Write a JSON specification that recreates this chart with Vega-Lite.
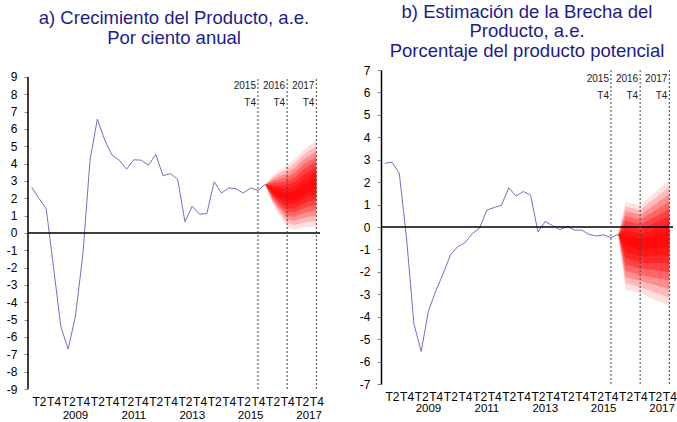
{
"$schema":"https://vega.github.io/schema/vega-lite/v6.json",
"background":"white",
"padding":{"left":6,"top":2,"right":0,"bottom":0},
"bounds":"flush",
"spacing":61,
"config":{"view":{"stroke":null},"font":"Liberation Sans","title":{"fontSize":18.5,"fontWeight":"normal","color":"#1c1c8c","lineHeight":19.5,"anchor":"middle","frame":"group"},
 "axisX":{"domain":false,"ticks":false,"tickSize":0,"grid":false,"labelFontSize":12,"labelPadding":7,"labelOverlap":false,"labelFlush":false,"labelColor":"#000"},
 "axisY":{"grid":false,"tickSize":4,"tickColor":"#888","labelFontSize":12,"labelPadding":7,"labelColor":"#000","labelOverlap":false,"domainColor":"#000","domainWidth":1.5}},
"datasets":{
"histA":[{"t":0,"v":2.64},{"t":1,"v":2.0},{"t":2,"v":1.39},{"t":3,"v":-2.0},{"t":4,"v":-5.4},{"t":5,"v":-6.7},{"t":6,"v":-4.8},{"t":7,"v":-1.3},{"t":8,"v":4.2},{"t":9,"v":6.57},{"t":10,"v":5.37},{"t":11,"v":4.5},{"t":12,"v":4.2},{"t":13,"v":3.68},{"t":14,"v":4.22},{"t":15,"v":4.2},{"t":16,"v":3.91},{"t":17,"v":4.53},{"t":18,"v":3.3},{"t":19,"v":3.43},{"t":20,"v":3.1},{"t":21,"v":0.65},{"t":22,"v":1.55},{"t":23,"v":1.08},{"t":24,"v":1.12},{"t":25,"v":2.95},{"t":26,"v":2.3},{"t":27,"v":2.6},{"t":28,"v":2.55},{"t":29,"v":2.3},{"t":30,"v":2.6},{"t":31,"v":2.45},{"t":32,"v":2.8}],
"histB":[{"t":0,"v":2.84},{"t":1,"v":2.89},{"t":2,"v":2.4},{"t":3,"v":-0.5},{"t":4,"v":-4.3},{"t":5,"v":-5.55},{"t":6,"v":-3.75},{"t":7,"v":-2.85},{"t":8,"v":-2.1},{"t":9,"v":-1.25},{"t":10,"v":-0.88},{"t":11,"v":-0.7},{"t":12,"v":-0.3},{"t":13,"v":-0.05},{"t":14,"v":0.75},{"t":15,"v":0.87},{"t":16,"v":0.97},{"t":17,"v":1.75},{"t":18,"v":1.38},{"t":19,"v":1.58},{"t":20,"v":1.42},{"t":21,"v":-0.22},{"t":22,"v":0.25},{"t":23,"v":0.06},{"t":24,"v":-0.12},{"t":25,"v":0.03},{"t":26,"v":-0.14},{"t":27,"v":-0.14},{"t":28,"v":-0.33},{"t":29,"v":-0.4},{"t":30,"v":-0.35},{"t":31,"v":-0.47},{"t":32,"v":-0.33}],
"fanA":[
{"t":32,"b":1,"lo":2.8,"hi":2.8},{"t":33,"b":1,"lo":1.70,"hi":3.30},{"t":34,"b":1,"lo":1.00,"hi":3.65},{"t":35,"b":1,"lo":0.35,"hi":3.90},{"t":36,"b":1,"lo":0.20,"hi":4.25},{"t":37,"b":1,"lo":0.30,"hi":4.70},{"t":38,"b":1,"lo":0.35,"hi":5.05},{"t":39,"b":1,"lo":0.35,"hi":5.30},
{"t":32,"b":2,"lo":2.8,"hi":2.8},{"t":33,"b":2,"lo":1.79,"hi":3.19},{"t":34,"b":2,"lo":1.15,"hi":3.47},{"t":35,"b":2,"lo":0.57,"hi":3.68},{"t":36,"b":2,"lo":0.44,"hi":3.99},{"t":37,"b":2,"lo":0.57,"hi":4.42},{"t":38,"b":2,"lo":0.64,"hi":4.76},{"t":39,"b":2,"lo":0.67,"hi":5.00},
{"t":32,"b":3,"lo":2.8,"hi":2.8},{"t":33,"b":3,"lo":1.89,"hi":3.09},{"t":34,"b":3,"lo":1.30,"hi":3.29},{"t":35,"b":3,"lo":0.79,"hi":3.45},{"t":36,"b":3,"lo":0.69,"hi":3.73},{"t":37,"b":3,"lo":0.84,"hi":4.14},{"t":38,"b":3,"lo":0.94,"hi":4.46},{"t":39,"b":3,"lo":0.99,"hi":4.70},
{"t":32,"b":4,"lo":2.8,"hi":2.8},{"t":33,"b":4,"lo":1.98,"hi":2.98},{"t":34,"b":4,"lo":1.45,"hi":3.11},{"t":35,"b":4,"lo":1.01,"hi":3.23},{"t":36,"b":4,"lo":0.93,"hi":3.46},{"t":37,"b":4,"lo":1.11,"hi":3.86},{"t":38,"b":4,"lo":1.23,"hi":4.17},{"t":39,"b":4,"lo":1.31,"hi":4.40},
{"t":32,"b":5,"lo":2.8,"hi":2.8},{"t":33,"b":5,"lo":2.08,"hi":2.88},{"t":34,"b":5,"lo":1.60,"hi":2.93},{"t":35,"b":5,"lo":1.23,"hi":3.00},{"t":36,"b":5,"lo":1.18,"hi":3.20},{"t":37,"b":5,"lo":1.38,"hi":3.58},{"t":38,"b":5,"lo":1.53,"hi":3.88},{"t":39,"b":5,"lo":1.63,"hi":4.10},
{"t":32,"b":6,"lo":2.8,"hi":2.8},{"t":33,"b":6,"lo":2.17,"hi":2.77},{"t":34,"b":6,"lo":1.75,"hi":2.74},{"t":35,"b":6,"lo":1.44,"hi":2.78},{"t":36,"b":6,"lo":1.42,"hi":2.94},{"t":37,"b":6,"lo":1.64,"hi":3.29},{"t":38,"b":6,"lo":1.82,"hi":3.58},{"t":39,"b":6,"lo":1.94,"hi":3.80},
{"t":32,"b":7,"lo":2.8,"hi":2.8},{"t":33,"b":7,"lo":2.26,"hi":2.66},{"t":34,"b":7,"lo":1.90,"hi":2.56},{"t":35,"b":7,"lo":1.66,"hi":2.55},{"t":36,"b":7,"lo":1.66,"hi":2.68},{"t":37,"b":7,"lo":1.91,"hi":3.01},{"t":38,"b":7,"lo":2.11,"hi":3.29},{"t":39,"b":7,"lo":2.26,"hi":3.50},
{"t":32,"b":8,"lo":2.8,"hi":2.8},{"t":33,"b":8,"lo":2.36,"hi":2.56},{"t":34,"b":8,"lo":2.05,"hi":2.38},{"t":35,"b":8,"lo":1.88,"hi":2.33},{"t":36,"b":8,"lo":1.91,"hi":2.41},{"t":37,"b":8,"lo":2.18,"hi":2.73},{"t":38,"b":8,"lo":2.41,"hi":2.99},{"t":39,"b":8,"lo":2.58,"hi":3.20}],
"fanB":[
{"t":32,"b":1,"lo":-0.33,"hi":-0.33},{"t":33,"b":1,"lo":-2.80,"hi":1.12},{"t":34,"b":1,"lo":-2.87,"hi":1.05},{"t":35,"b":1,"lo":-2.95,"hi":0.98},{"t":36,"b":1,"lo":-3.10,"hi":1.26},{"t":37,"b":1,"lo":-3.24,"hi":1.54},{"t":38,"b":1,"lo":-3.38,"hi":1.82},{"t":39,"b":1,"lo":-3.53,"hi":2.10},
{"t":32,"b":2,"lo":-0.33,"hi":-0.33},{"t":33,"b":2,"lo":-2.52,"hi":0.91},{"t":34,"b":2,"lo":-2.59,"hi":0.84},{"t":35,"b":2,"lo":-2.68,"hi":0.76},{"t":36,"b":2,"lo":-2.80,"hi":1.02},{"t":37,"b":2,"lo":-2.91,"hi":1.27},{"t":38,"b":2,"lo":-3.03,"hi":1.52},{"t":39,"b":2,"lo":-3.15,"hi":1.78},
{"t":32,"b":3,"lo":-0.33,"hi":-0.33},{"t":33,"b":3,"lo":-2.24,"hi":0.70},{"t":34,"b":3,"lo":-2.32,"hi":0.63},{"t":35,"b":3,"lo":-2.40,"hi":0.55},{"t":36,"b":3,"lo":-2.50,"hi":0.77},{"t":37,"b":3,"lo":-2.59,"hi":1.00},{"t":38,"b":3,"lo":-2.67,"hi":1.23},{"t":39,"b":3,"lo":-2.77,"hi":1.45},
{"t":32,"b":4,"lo":-0.33,"hi":-0.33},{"t":33,"b":4,"lo":-1.96,"hi":0.49},{"t":34,"b":4,"lo":-2.04,"hi":0.41},{"t":35,"b":4,"lo":-2.13,"hi":0.33},{"t":36,"b":4,"lo":-2.20,"hi":0.53},{"t":37,"b":4,"lo":-2.26,"hi":0.73},{"t":38,"b":4,"lo":-2.32,"hi":0.93},{"t":39,"b":4,"lo":-2.39,"hi":1.13},
{"t":32,"b":5,"lo":-0.33,"hi":-0.33},{"t":33,"b":5,"lo":-1.68,"hi":0.29},{"t":34,"b":5,"lo":-1.76,"hi":0.20},{"t":35,"b":5,"lo":-1.85,"hi":0.12},{"t":36,"b":5,"lo":-1.90,"hi":0.28},{"t":37,"b":5,"lo":-1.93,"hi":0.46},{"t":38,"b":5,"lo":-1.97,"hi":0.64},{"t":39,"b":5,"lo":-2.02,"hi":0.80},
{"t":32,"b":6,"lo":-0.33,"hi":-0.33},{"t":33,"b":6,"lo":-1.39,"hi":0.08},{"t":34,"b":6,"lo":-1.48,"hi":-0.01},{"t":35,"b":6,"lo":-1.58,"hi":-0.10},{"t":36,"b":6,"lo":-1.60,"hi":0.04},{"t":37,"b":6,"lo":-1.60,"hi":0.19},{"t":38,"b":6,"lo":-1.61,"hi":0.34},{"t":39,"b":6,"lo":-1.64,"hi":0.48},
{"t":32,"b":7,"lo":-0.33,"hi":-0.33},{"t":33,"b":7,"lo":-1.11,"hi":-0.13},{"t":34,"b":7,"lo":-1.21,"hi":-0.23},{"t":35,"b":7,"lo":-1.30,"hi":-0.32},{"t":36,"b":7,"lo":-1.30,"hi":-0.21},{"t":37,"b":7,"lo":-1.28,"hi":-0.08},{"t":38,"b":7,"lo":-1.26,"hi":0.04},{"t":39,"b":7,"lo":-1.26,"hi":0.15},
{"t":32,"b":8,"lo":-0.33,"hi":-0.33},{"t":33,"b":8,"lo":-0.83,"hi":-0.34},{"t":34,"b":8,"lo":-0.93,"hi":-0.44},{"t":35,"b":8,"lo":-1.03,"hi":-0.53},{"t":36,"b":8,"lo":-1.00,"hi":-0.46},{"t":37,"b":8,"lo":-0.95,"hi":-0.35},{"t":38,"b":8,"lo":-0.90,"hi":-0.25},{"t":39,"b":8,"lo":-0.88,"hi":-0.17}],
"vlines":[{"t":31,"lab":"2015\nT4"},{"t":35,"lab":"2016\nT4"},{"t":39,"lab":"2017\nT4"}],
"years":[{"t":6,"yr":"2009"},{"t":14,"yr":"2011"},{"t":22,"yr":"2013"},{"t":30,"yr":"2015"},{"t":38,"yr":"2017"}]
},
"hconcat":[
{
"width":292,"height":319,
"title":{"text":["a) Crecimiento del Producto, a.e.","Por ciento anual"],"offset":23},
"layer":[
{"data":{"name":"fanA"},"mark":{"type":"area","color":"#ff0000","interpolate":"linear"},
 "encoding":{
  "x":{"field":"t","type":"quantitative","scale":{"domain":[-0.5,39.5],"nice":false,"zero":false},"axis":{"values":[1,3,5,7,9,11,13,15,17,19,21,23,25,27,29,31,33,35,37,39],"labelExpr":"datum.value % 4 == 1 ? 'T2' : 'T4'","title":null}},
  "y":{"field":"lo","type":"quantitative","stack":null,"scale":{"domain":[-9,9.4],"nice":false,"zero":false},"axis":{"values":[-9,-8,-7,-6,-5,-4,-3,-2,-1,0,1,2,3,4,5,6,7,8,9],"labelExpr":"'' + datum.value","domain":false,"title":null}},
  "y2":{"field":"hi"},
  "opacity":{"field":"b","type":"quantitative","scale":{"domain":[1,8],"range":[0.12,0.5]},"legend":null},
  "detail":{"field":"b","type":"nominal"}}},
{"data":{"name":"histA"},"mark":{"type":"line","color":"#7070c8","strokeWidth":1},
 "encoding":{
  "x":{"field":"t","type":"quantitative","scale":{"domain":[-0.5,39.5],"nice":false,"zero":false},"axis":{"values":[1,3,5,7,9,11,13,15,17,19,21,23,25,27,29,31,33,35,37,39],"labelExpr":"datum.value % 4 == 1 ? 'T2' : 'T4'","title":null}},
  "y":{"field":"v","type":"quantitative","scale":{"domain":[-9,9.4],"nice":false,"zero":false},"axis":{"values":[-9,-8,-7,-6,-5,-4,-3,-2,-1,0,1,2,3,4,5,6,7,8,9],"labelExpr":"'' + datum.value","domain":false,"title":null}}}},
{"data":{"values":[{}]},"mark":{"type":"rule","color":"#000","strokeWidth":1.5},
 "encoding":{"y":{"datum":0,"type":"quantitative","scale":{"domain":[-9,9.4],"nice":false,"zero":false},"axis":{"values":[-9,-8,-7,-6,-5,-4,-3,-2,-1,0,1,2,3,4,5,6,7,8,9],"labelExpr":"'' + datum.value","domain":false,"title":null}}}},
{"data":{"values":[{}]},"mark":{"type":"rule","color":"#000","strokeWidth":1.5},
 "encoding":{"x":{"datum":-0.5,"type":"quantitative","scale":{"domain":[-0.5,39.5],"nice":false,"zero":false},"axis":{"values":[1,3,5,7,9,11,13,15,17,19,21,23,25,27,29,31,33,35,37,39],"labelExpr":"datum.value % 4 == 1 ? 'T2' : 'T4'","title":null}},
  "y":{"datum":-9,"type":"quantitative","scale":{"domain":[-9,9.4],"nice":false,"zero":false},"axis":{"values":[-9,-8,-7,-6,-5,-4,-3,-2,-1,0,1,2,3,4,5,6,7,8,9],"labelExpr":"'' + datum.value","domain":false,"title":null}},"y2":{"datum":9}}},
{"data":{"name":"vlines"},"mark":{"type":"rule","color":"#444","strokeDash":[2,2],"strokeWidth":1},
 "encoding":{"x":{"field":"t","type":"quantitative","scale":{"domain":[-0.5,39.5],"nice":false,"zero":false},"axis":{"values":[1,3,5,7,9,11,13,15,17,19,21,23,25,27,29,31,33,35,37,39],"labelExpr":"datum.value % 4 == 1 ? 'T2' : 'T4'","title":null}},
  "y":{"datum":-9,"type":"quantitative","scale":{"domain":[-9,9.4],"nice":false,"zero":false},"axis":{"values":[-9,-8,-7,-6,-5,-4,-3,-2,-1,0,1,2,3,4,5,6,7,8,9],"labelExpr":"'' + datum.value","domain":false,"title":null}},"y2":{"datum":9}}},
{"data":{"name":"vlines"},"mark":{"type":"text","align":"right","baseline":"alphabetic","dx":-2,"dy":12,"fontSize":10,"lineHeight":17,"lineBreak":"\n","color":"#222"},
 "encoding":{"x":{"field":"t","type":"quantitative","scale":{"domain":[-0.5,39.5],"nice":false,"zero":false},"axis":{"values":[1,3,5,7,9,11,13,15,17,19,21,23,25,27,29,31,33,35,37,39],"labelExpr":"datum.value % 4 == 1 ? 'T2' : 'T4'","title":null}},
  "y":{"datum":9,"type":"quantitative","scale":{"domain":[-9,9.4],"nice":false,"zero":false},"axis":{"values":[-9,-8,-7,-6,-5,-4,-3,-2,-1,0,1,2,3,4,5,6,7,8,9],"labelExpr":"'' + datum.value","domain":false,"title":null}},"text":{"field":"lab"}}},
{"data":{"name":"years"},"mark":{"type":"text","baseline":"middle","dy":27,"fontSize":11.5,"color":"#000"},
 "encoding":{"x":{"field":"t","type":"quantitative","scale":{"domain":[-0.5,39.5],"nice":false,"zero":false},"axis":{"values":[1,3,5,7,9,11,13,15,17,19,21,23,25,27,29,31,33,35,37,39],"labelExpr":"datum.value % 4 == 1 ? 'T2' : 'T4'","title":null}},
  "y":{"datum":-9,"type":"quantitative","scale":{"domain":[-9,9.4],"nice":false,"zero":false},"axis":{"values":[-9,-8,-7,-6,-5,-4,-3,-2,-1,0,1,2,3,4,5,6,7,8,9],"labelExpr":"'' + datum.value","domain":false,"title":null}},"text":{"field":"yr"}}}
]},
{
"width":292,"height":314,
"title":{"text":["b) Estimación de la Brecha del","Producto, a.e.","Porcentaje del producto potencial"],"offset":4},
"layer":[
{"data":{"name":"fanB"},"mark":{"type":"area","color":"#ff0000","interpolate":"linear"},
 "encoding":{
  "x":{"field":"t","type":"quantitative","scale":{"domain":[-0.5,39.5],"nice":false,"zero":false},"axis":{"values":[1,3,5,7,9,11,13,15,17,19,21,23,25,27,29,31,33,35,37,39],"labelExpr":"datum.value % 4 == 1 ? 'T2' : 'T4'","title":null}},
  "y":{"field":"lo","type":"quantitative","stack":null,"scale":{"domain":[-7,7],"nice":false,"zero":false},"axis":{"values":[-7,-6,-5,-4,-3,-2,-1,0,1,2,3,4,5,6,7],"labelExpr":"'' + datum.value","title":null}},
  "y2":{"field":"hi"},
  "opacity":{"field":"b","type":"quantitative","scale":{"domain":[1,8],"range":[0.12,0.5]},"legend":null},
  "detail":{"field":"b","type":"nominal"}}},
{"data":{"name":"histB"},"mark":{"type":"line","color":"#7070c8","strokeWidth":1},
 "encoding":{
  "x":{"field":"t","type":"quantitative","scale":{"domain":[-0.5,39.5],"nice":false,"zero":false},"axis":{"values":[1,3,5,7,9,11,13,15,17,19,21,23,25,27,29,31,33,35,37,39],"labelExpr":"datum.value % 4 == 1 ? 'T2' : 'T4'","title":null}},
  "y":{"field":"v","type":"quantitative","scale":{"domain":[-7,7],"nice":false,"zero":false},"axis":{"values":[-7,-6,-5,-4,-3,-2,-1,0,1,2,3,4,5,6,7],"labelExpr":"'' + datum.value","title":null}}}},
{"data":{"values":[{}]},"mark":{"type":"rule","color":"#000","strokeWidth":1.5},
 "encoding":{"y":{"datum":0,"type":"quantitative","scale":{"domain":[-7,7],"nice":false,"zero":false},"axis":{"values":[-7,-6,-5,-4,-3,-2,-1,0,1,2,3,4,5,6,7],"labelExpr":"'' + datum.value","title":null}}}},
{"data":{"name":"vlines"},"mark":{"type":"rule","color":"#444","strokeDash":[2,2],"strokeWidth":1},
 "encoding":{"x":{"field":"t","type":"quantitative","scale":{"domain":[-0.5,39.5],"nice":false,"zero":false},"axis":{"values":[1,3,5,7,9,11,13,15,17,19,21,23,25,27,29,31,33,35,37,39],"labelExpr":"datum.value % 4 == 1 ? 'T2' : 'T4'","title":null}},
  "y":{"datum":-7,"type":"quantitative","scale":{"domain":[-7,7],"nice":false,"zero":false},"axis":{"values":[-7,-6,-5,-4,-3,-2,-1,0,1,2,3,4,5,6,7],"labelExpr":"'' + datum.value","title":null}},"y2":{"datum":7}}},
{"data":{"name":"vlines"},"mark":{"type":"text","align":"right","baseline":"alphabetic","dx":-2,"dy":12,"fontSize":10,"lineHeight":17,"lineBreak":"\n","color":"#222"},
 "encoding":{"x":{"field":"t","type":"quantitative","scale":{"domain":[-0.5,39.5],"nice":false,"zero":false},"axis":{"values":[1,3,5,7,9,11,13,15,17,19,21,23,25,27,29,31,33,35,37,39],"labelExpr":"datum.value % 4 == 1 ? 'T2' : 'T4'","title":null}},
  "y":{"datum":7,"type":"quantitative","scale":{"domain":[-7,7],"nice":false,"zero":false},"axis":{"values":[-7,-6,-5,-4,-3,-2,-1,0,1,2,3,4,5,6,7],"labelExpr":"'' + datum.value","title":null}},"text":{"field":"lab"}}},
{"data":{"name":"years"},"mark":{"type":"text","baseline":"middle","dy":25,"fontSize":11.5,"color":"#000"},
 "encoding":{"x":{"field":"t","type":"quantitative","scale":{"domain":[-0.5,39.5],"nice":false,"zero":false},"axis":{"values":[1,3,5,7,9,11,13,15,17,19,21,23,25,27,29,31,33,35,37,39],"labelExpr":"datum.value % 4 == 1 ? 'T2' : 'T4'","title":null}},
  "y":{"datum":-7,"type":"quantitative","scale":{"domain":[-7,7],"nice":false,"zero":false},"axis":{"values":[-7,-6,-5,-4,-3,-2,-1,0,1,2,3,4,5,6,7],"labelExpr":"'' + datum.value","title":null}},"text":{"field":"yr"}}}
]}
]
}
